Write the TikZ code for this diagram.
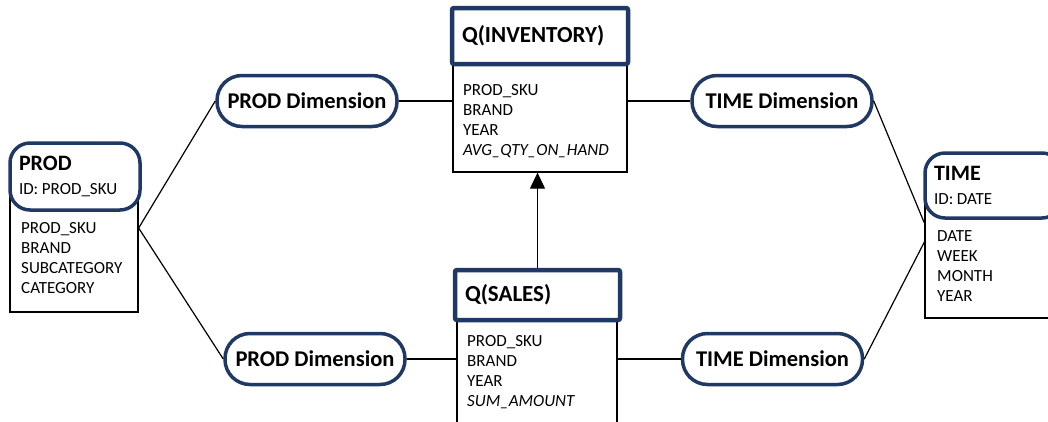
\documentclass[tikz,border=0pt]{standalone}
\usepackage{fontspec}
\setmainfont{Carlito}
\usetikzlibrary{arrows.meta}
\definecolor{navy}{RGB}{31,56,100}
\tikzset{
  dimpill/.style={draw=navy, line width=3.5pt, fill=white, rounded corners=25pt, minimum width=180pt, minimum height=51pt, font=\fontsize{22.5}{24}\selectfont\bfseries},
  qhead/.style={draw=navy, line width=4.5pt, fill=white, rounded corners=2pt, align=left, inner xsep=10pt, font=\fontsize{23}{24}\selectfont\bfseries},
  enthead/.style={draw=navy, line width=3.5pt, fill=white, rounded corners=20pt, align=left, inner xsep=9pt, font=\fontsize{17}{24}\selectfont},
  body/.style={draw, line width=1.3pt, fill=white},
  attr/.style={align=left, inner sep=0pt, anchor=base west, font=\fontsize{17}{20}\selectfont},
  conn/.style={line width=1.2pt}
}
\begin{document}
\begin{tikzpicture}[x=1pt,y=-1pt]
\useasboundingbox (0,0) rectangle (1048,421);
\clip (0,0) rectangle (1048,421);
% attribute boxes
\node[body, minimum width=174pt, minimum height=108pt] (invbody) at (540,118) {};
\node[body, minimum width=160pt, minimum height=120pt] (salesbody) at (537,380) {};
\node[body, minimum width=128pt, minimum height=132pt] (prodbody) at (74,246) {};
\node[body, minimum width=145pt, minimum height=118pt] (timebody) at (997.5,259) {};
% headers
\node[qhead, text width=156pt, minimum height=56pt] (invhead) at (540,36) {Q(INVENTORY)};
\node[qhead, text width=145pt, minimum height=50pt] (saleshead) at (537.5,295) {Q(SALES)};
\node[enthead, text width=112pt, minimum height=67pt] (prodhead) at (75,176.5) {{\fontsize{22}{24}\selectfont\bfseries PROD}\\ID:\kern-2pt\ PROD\_SKU};
\node[enthead, text width=119pt, minimum height=65pt] (timehead) at (993.5,185.5) {{\fontsize{22}{24}\selectfont\bfseries TIME}\\ID:\kern-2pt\ DATE};
% attributes (base = last line)
\node[attr] (invattr) at (463,155) {PROD\_SKU\\BRAND\\YEAR\\\textit{AVG\_QTY\_ON\_HAND}};
\node[attr] (salesattr) at (467,406) {PROD\_SKU\\BRAND\\YEAR\\\textit{SUM\_AMOUNT}};
\node[attr] (prodattr) at (21,293) {PROD\_SKU\\BRAND\\SUBCATEGORY\\CATEGORY};
\node[attr] (timeattr) at (937,301) {DATE\\WEEK\\MONTH\\YEAR};
% dimensions
\node[dimpill] (proddim1) at (307,101) {PROD Dimension};
\node[dimpill] (timedim1) at (782,101) {TIME Dimension};
\node[dimpill] (proddim2) at (315,359) {PROD Dimension};
\node[dimpill] (timedim2) at (772.5,359) {TIME Dimension};
% connectors
\draw[conn] ([yshift=18pt]prodbody.east) -- (proddim1.west);
\draw[conn] ([yshift=18pt]prodbody.east) -- (proddim2.west);
\draw[conn] (proddim1.east) -- (proddim1.east -| invbody.west);
\draw[conn] (invbody.east |- timedim1.west) -- (timedim1.west);
\draw[conn] (timedim1.east) -- ([yshift=36pt]timebody.west);
\draw[conn] (proddim2.east) -- (proddim2.east -| salesbody.west);
\draw[conn] (salesbody.east |- timedim2.west) -- (timedim2.west);
\draw[conn] (timedim2.east) -- ([yshift=17pt]timebody.west);
\draw[conn, -{Triangle[width=15pt,length=16pt]}] (saleshead.north) -- (saleshead.north |- invbody.south);
\end{tikzpicture}
\end{document}
